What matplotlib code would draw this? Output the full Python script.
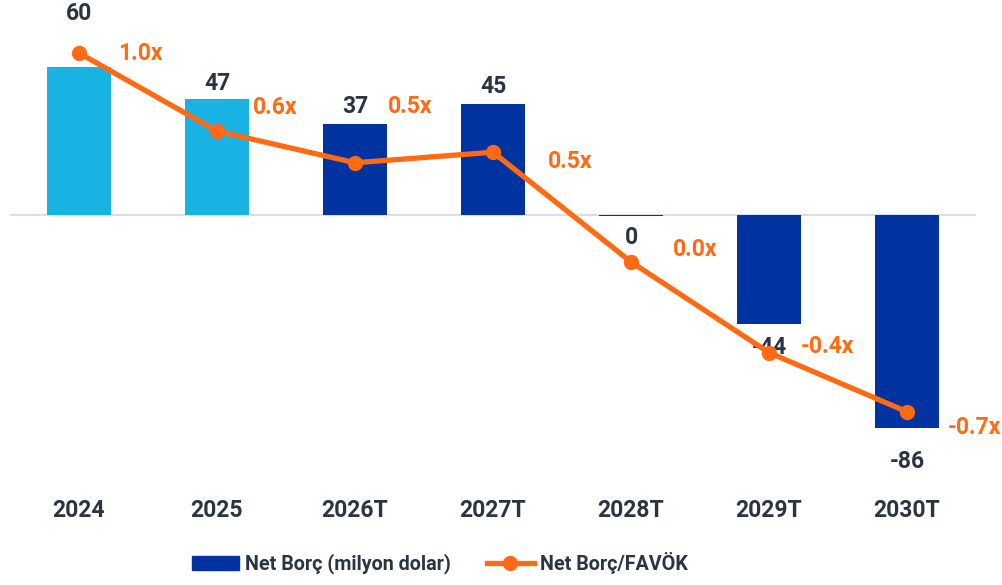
import matplotlib
matplotlib.use("Agg")
import matplotlib.pyplot as plt
from matplotlib.patches import Patch
from matplotlib.lines import Line2D

plt.rcParams['font.family'] = ['Roboto', 'DejaVu Sans']

categories = ["2024", "2025", "2026T", "2027T", "2028T", "2029T", "2030T"]
net_debt = [60, 47, 37, 45, -0.49, -44, -86]
debt_ebitda = [1.0, 0.63, 0.48, 0.53, 0.01, -0.42, -0.70]

LIGHT = "#19b3e3"
DARK = "#0033a0"
ORANGE = "#ff6a13"
TEXT = "#2b3442"
bar_colors = [LIGHT, LIGHT, DARK, DARK, DARK, DARK, DARK]

# label offsets in pixels (style)
bar_lbl_off = [(0, 53), (0, 15), (0, 17), (0, 17), (0, -21), (0, -24), (0, -34)]
line_lbl_off = [(61, 0), (58, 24), (55, 56), (77, -9), (64, 12), (58, 6), (67, -16)]

W, H = 1003, 585
fig = plt.figure(figsize=(W / 100, H / 100), dpi=100)
ax = fig.add_axes([10 / W, (H - 470) / H, 966 / W, 460 / H])
ax2 = ax.twinx()

x = list(range(len(categories)))
ax.bar(x, net_debt, width=0.46, color=bar_colors, zorder=2)
ax.axhline(0, color="#d9dfea", lw=1.5, zorder=1)
ax.set_xlim(-0.5, len(categories) - 0.5)
ax.set_ylim(-103.2, 83.0)

ax2.plot(x, debt_ebitda, color=ORANGE, lw=3.8, marker="o", markersize=10,
         zorder=3, solid_capstyle="round")
ax2.set_ylim(-0.976, 1.204)

for a in (ax, ax2):
    for s in a.spines.values():
        s.set_visible(False)
    a.set_yticks([])
ax.tick_params(axis="x", length=0, pad=21)
ax.set_xticks(x)
ax.set_xticklabels(categories, fontsize=16.5, fontweight="bold", color=TEXT)

for xi, v, off in zip(x, net_debt, bar_lbl_off):
    base = max(v, 0) if off[1] > 0 else min(v, 0)
    ax.annotate(f"{int(round(v))}", (xi, base), xytext=off, textcoords="offset pixels",
                ha="center", va="center", fontsize=16.5, fontweight="bold", color=TEXT, zorder=5)

for xi, v, off in zip(x, debt_ebitda, line_lbl_off):
    ax2.annotate(f"{v:.1f}x", (xi, v), xytext=off, textcoords="offset pixels",
                 ha="center", va="center", fontsize=16.5, fontweight="bold", color=ORANGE, zorder=5)

handles = [Patch(color=DARK), Line2D([0], [0], color=ORANGE, lw=3.8, marker="o", markersize=10)]
labels = ["Net Borç (milyon dolar)", "Net Borç/FAVÖK"]
leg = fig.legend(handles, labels, loc="center", bbox_to_anchor=(440 / W, 22 / H), ncol=2,
                 frameon=False, handlelength=2.4, handletextpad=0.3, columnspacing=1.8,
                 prop={"size": 14.2, "weight": "bold"})
for t in leg.get_texts():
    t.set_color(TEXT)

fig.savefig("out.png", dpi=100)
